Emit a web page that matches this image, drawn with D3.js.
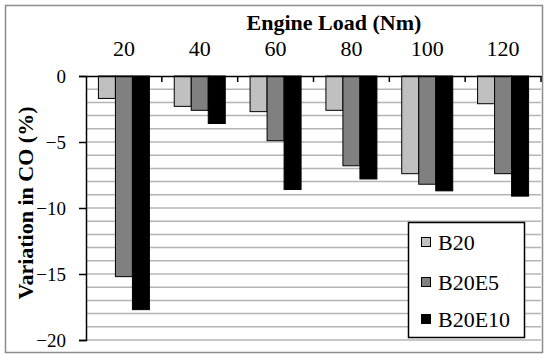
<!DOCTYPE html>
<head>
<meta charset="utf-8">
<style>
  body { margin:0; background:#fff; }
</style>
</head>

<script src="https://d3js.org/d3.v7.min.js"></script>

<div id="my_dataviz"></div>

<script>
// data
var loads = ["20", "40", "60", "80", "100", "120"];
var series = ["B20", "B20E5", "B20E10"];
var b20 = [-1.7, -2.3, -2.7, -2.6, -7.4, -2.1];
var b20e5 = [-15.2, -2.6, -4.9, -6.8, -8.2, -7.4];
var b20e10 = [-17.7, -3.6, -8.6, -7.8, -8.7, -9.1];
var yTicks = [0, -5, -10, -15, -20];
var colors = ["#c0c0c0", "#808080", "#000000"];

var values = [b20, b20e5, b20e10];
var FONT = "'Liberation Serif', 'Times New Roman', serif";

var W = 550, H = 361;
var margin = {top: 76, right: 9, bottom: 21, left: 86};
var width = W - margin.left - margin.right,
    height = H - margin.top - margin.bottom;

var svg = d3.select("#my_dataviz")
  .append("svg")
    .attr("width", W)
    .attr("height", H);

// outer frame
svg.append("rect")
  .attr("x", 5.5).attr("y", 5.5)
  .attr("width", 537).attr("height", 347)
  .attr("fill", "#fff")
  .attr("stroke", "#8c8c8c")
  .attr("stroke-width", 1.5);

var g = svg.append("g")
  .attr("transform", "translate(" + margin.left + "," + margin.top + ")");

var x = d3.scaleBand()
  .domain(loads)
  .range([0, width]);

var xs = d3.scaleBand()
  .domain(series)
  .range([0, x.bandwidth()])
  .paddingOuter(0.73);

var y = d3.scaleLinear()
  .domain([0, -20])
  .range([0, height]);

// gridlines every unit
g.append("g")
  .selectAll("line")
  .data(d3.range(-1, -21, -1))
  .join("line")
    .attr("x1", 0).attr("x2", width)
    .attr("y1", d => y(d)).attr("y2", d => y(d))
    .attr("stroke", "#b4b4b4")
    .attr("stroke-width", 1.5);

// bars
series.forEach(function(s, si) {
  g.append("g")
    .selectAll("rect")
    .data(values[si])
    .join("rect")
      .attr("x", (d, i) => x(loads[i]) + xs(s))
      .attr("y", y(0))
      .attr("width", xs.bandwidth())
      .attr("height", d => y(d) - y(0))
      .attr("fill", colors[si])
      .attr("stroke", "#000")
      .attr("stroke-width", 1);
});

// y axis
var yAxis = g.append("g")
  .call(d3.axisLeft(y).tickValues(yTicks).tickSize(7).tickPadding(13).tickFormat(d3.format("d")));
yAxis.select(".domain").attr("stroke", "#000").attr("stroke-width", 1.5);
yAxis.selectAll(".tick line").attr("stroke", "#000").attr("stroke-width", 1.5);
yAxis.selectAll("text")
  .attr("fill", "#000")
  .style("font-size", "19px")
  .style("font-family", FONT);

// x axis on top (labels above, ticks pointing down at boundaries)
var xAxis = g.append("g")
  .call(d3.axisTop(x).tickSize(0).tickPadding(20));
xAxis.select(".domain").attr("stroke", "#000").attr("stroke-width", 1.5);
xAxis.selectAll("text")
  .attr("fill", "#000")
  .style("font-size", "22px")
  .style("font-family", FONT);

g.append("g")
  .selectAll("line")
  .data(loads)
  .join("line")
    .attr("x1", d => x(d) + x.bandwidth()).attr("x2", d => x(d) + x.bandwidth())
    .attr("y1", 0).attr("y2", 6)
    .attr("stroke", "#000")
    .attr("stroke-width", 1.5);

// titles
svg.append("text")
  .attr("x", 334).attr("y", 30)
  .attr("text-anchor", "middle")
  .style("font-family", FONT)
  .style("font-size", "22px")
  .style("font-weight", "bold")
  .text("Engine Load (Nm)");

svg.append("text")
  .attr("transform", "translate(33,203) rotate(-90)")
  .attr("text-anchor", "middle")
  .style("font-family", FONT)
  .style("font-size", "22px")
  .style("font-weight", "bold")
  .text("Variation in CO (%)");

// legend
var legend = svg.append("g").attr("transform", "translate(408,222)");
legend.append("rect")
  .attr("x", 0.5).attr("y", 0.5)
  .attr("width", 116).attr("height", 115)
  .attr("fill", "#fff")
  .attr("stroke", "#000")
  .attr("stroke-width", 1.5);

var rows = legend.selectAll(".row")
  .data(series)
  .join("g")
    .attr("class", "row")
    .attr("transform", (d, i) => "translate(0," + [20, 60, 97][i] + ")");
rows.append("rect")
  .attr("x", 13.5).attr("y", -4.5)
  .attr("width", 9).attr("height", 9)
  .attr("fill", (d, i) => colors[i])
  .attr("stroke", "#000")
  .attr("stroke-width", 1);
rows.append("text")
  .attr("x", 30).attr("y", 7.5)
  .style("font-family", FONT)
  .style("font-size", "22px")
  .text(d => d);
</script>
